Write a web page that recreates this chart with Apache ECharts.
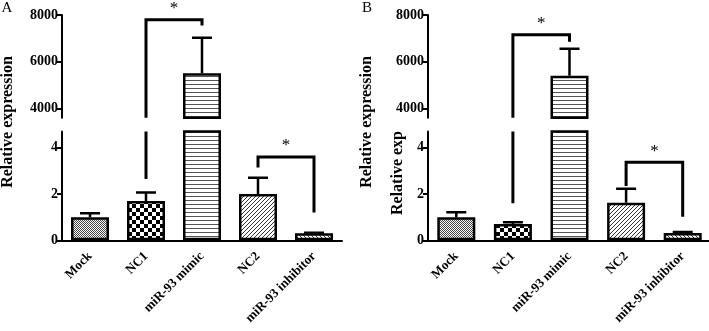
<!DOCTYPE html>
<html><head><meta charset="utf-8">
<script src="https://cdn.jsdelivr.net/npm/echarts@6/dist/echarts.min.js"></script>
<style>html,body{margin:0;padding:0;background:#fff}#c{width:709px;height:331px}</style>
</head><body><div id="c"></div>
<script>
// ---- data ----
const categories = ['Mock', 'NC1', 'miR-93 mimic', 'NC2', 'miR-93 inhibitor'];
const meanA  = [1.0, 1.7, 5500, 2.0, 0.30];
const upperA = [1.17, 2.07, 7030, 2.70, 0.33];
const meanB  = [1.0, 0.70, 5400, 1.62, 0.32];
const upperB = [1.21, 0.78, 6550, 2.23, 0.36];
// significance brackets: [fromIndex, toIndex, leftLegBottom, top, rightLegBottom]
const sigA = [[1, 2, 2.65, 7800, 7550], [3, 4, 3.15, 3.6, 1.2]];
const sigB = [[1, 2, 1.6, 7150, 6850], [3, 4, 2.35, 3.37, 1.02]];
const topTicks = [4000, 6000, 8000];
const botTicks = [0, 2, 4];
const topRange = [3600, 8000];
const botRange = [0, 4.7];

// ---- patterns ----
function pat(w, h, draw) {
  const c = document.createElement('canvas'); c.width = w; c.height = h;
  const g = c.getContext('2d'); g.fillStyle = '#fff'; g.fillRect(0, 0, w, h);
  draw(g); return { image: c, repeat: 'repeat' };
}
const patterns = [
  pat(2, 2, g => { g.fillStyle = '#444'; g.fillRect(0, 0, 1, 1); g.fillRect(1, 1, 1, 1); }),
  pat(8, 8, g => { g.fillStyle = '#000'; g.fillRect(0, 0, 4, 4); g.fillRect(4, 4, 4, 4); }),
  pat(4, 4, g => { g.fillStyle = '#555'; g.fillRect(0, 0, 4, 1); }),
  pat(4, 4, g => { g.fillStyle = '#333'; for (let i = 0; i < 4; i++) g.fillRect(3 - i, i, 1, 1); }),
  pat(4, 4, g => { g.fillStyle = '#333'; for (let i = 0; i < 4; i++) g.fillRect(i, i, 1, 1); })
];

const FONT = 'Liberation Serif';
const grids = [], xAxes = [], yAxes = [], series = [];

function errSeries(ax, mean, upper) {
  return {
    type: 'custom', xAxisIndex: ax, yAxisIndex: ax, clip: true, z: 5,
    encode: { x: 0, y: [1, 2] },
    data: mean.map((m, i) => [i, m, upper[i]]),
    renderItem(params, api) {
      const p0 = api.coord([api.value(0), api.value(1)]);
      const p1 = api.coord([api.value(0), api.value(2)]);
      const st = { stroke: '#000', lineWidth: 2.5 };
      return { type: 'group', children: [
        { type: 'line', shape: { x1: p0[0], y1: p0[1], x2: p1[0], y2: p1[1] }, style: st },
        { type: 'line', shape: { x1: p1[0] - 10, y1: p1[1], x2: p1[0] + 10, y2: p1[1] }, style: st }
      ] };
    }
  };
}
function bracketSeries(ax, items) {
  return {
    type: 'custom', xAxisIndex: ax, yAxisIndex: ax, clip: false, z: 6,
    encode: { x: [0, 1], y: [2, 3, 4] },
    data: items,
    renderItem(params, api) {
      const f = api.value(0), t = api.value(1);
      const a = api.coord([f, api.value(2)]), b = api.coord([f, api.value(3)]);
      const c = api.coord([t, api.value(3)]), d = api.coord([t, api.value(4)]);
      const ch = [{ type: 'polyline', shape: { points: [a, b, c, d] },
        style: { stroke: '#000', lineWidth: 3, fill: null, lineJoin: 'miter' } }];
      if (api.value(5)) ch.push({ type: 'text', style: { text: '*', x: (b[0] + c[0]) / 2, y: b[1] - 11,
        align: 'center', verticalAlign: 'middle', fontSize: 17, fontFamily: FONT, fill: '#000' } });
      return { type: 'group', children: ch };
    }
  };
}

function panel(left, width, mean, upper, sig) {
  const t = grids.length, b = t + 1;
  const topH = (topRange[1] - topRange[0]) * 0.023333;
  const botH = (botRange[1] - botRange[0]) * 23.15;
  grids.push({ left: left, top: 15, width: width, height: topH, outerBoundsMode: 'none' });
  grids.push({ left: left, top: 240.3 - botH, width: width, height: botH, outerBoundsMode: 'none' });
  const yCommon = {
    axisLine: { show: true, lineStyle: { color: '#000', width: 2 } },
    axisTick: { show: true, length: 5, lineStyle: { color: '#000', width: 2 } },
    splitLine: { show: false },
    axisLabel: { color: '#000', fontFamily: FONT, fontSize: 14, fontWeight: 'bold', margin: 4,
      formatter: v => String(v) }
  };
  yAxes.push(Object.assign({}, yCommon, { type: 'value', gridIndex: t, min: topRange[0], max: topRange[1],
    axisTick: Object.assign({}, yCommon.axisTick, { customValues: topTicks }),
    axisLabel: Object.assign({}, yCommon.axisLabel, { customValues: topTicks }) }));
  yAxes.push(Object.assign({}, yCommon, { type: 'value', gridIndex: b, min: botRange[0], max: botRange[1],
    axisTick: Object.assign({}, yCommon.axisTick, { customValues: botTicks }),
    axisLabel: Object.assign({}, yCommon.axisLabel, { customValues: botTicks }) }));
  xAxes.push({ type: 'category', gridIndex: t, data: categories, show: false });
  xAxes.push({ type: 'category', gridIndex: b, data: categories,
    axisLine: { lineStyle: { color: '#000', width: 2 } },
    axisTick: { alignWithLabel: true, length: 5, lineStyle: { color: '#000', width: 2 } },
    axisLabel: { rotate: 45, interval: 0, margin: 14, color: '#000', fontFamily: FONT, fontSize: 13, fontWeight: 'bold' } });
  const barData = mean.map((v, i) => ({ value: v, itemStyle: { color: patterns[i] } }));
  [t, b].forEach(ax => {
    series.push({ type: 'bar', xAxisIndex: ax, yAxisIndex: ax, barWidth: 38, clip: true, z: 2,
      data: barData, itemStyle: { borderColor: '#000', borderWidth: 2.5 } });
    series.push(errSeries(ax, mean, upper));
  });
  const topItems = [], botItems = [];
  sig.forEach(s => {
    const [f, to, l, tp, r] = s;
    if (tp > botRange[1]) {
      topItems.push([f, to, Math.max(l, topRange[0]), tp, Math.max(r, topRange[0]), 1]);
      if (l < botRange[1]) botItems.push([f, f, l, botRange[1], botRange[1], 0]);
    } else {
      botItems.push([f, to, l, tp, r, 1]);
    }
  });
  series.push(bracketSeries(t, topItems));
  series.push(bracketSeries(b, botItems));
}
panel(62, 280, meanA, upperA, sigA);
panel(428, 283, meanB, upperB, sigB);

const lbl = (text, x, y, size, weight, rot) => ({ type: 'text', x: x, y: y, rotation: rot || 0,
  style: { text: text, align: 'center', verticalAlign: 'middle', fontSize: size, fontWeight: weight, fontFamily: FONT, fill: '#000' } });

const chart = echarts.init(document.getElementById('c'), null, { renderer: 'canvas' });
chart.setOption({
  backgroundColor: '#fff',
  animation: false,
  grid: grids, xAxis: xAxes, yAxis: yAxes, series: series,
  graphic: [
    lbl('A', 7, 8, 15, 'normal'),
    lbl('B', 367, 8, 15, 'normal'),
    lbl('Relative expression', 8, 122, 16, 'bold', Math.PI / 2),
    lbl('Relative expression', 367, 122, 16, 'bold', Math.PI / 2),
    lbl('Relative exp', 398, 173, 16, 'bold', Math.PI / 2)
  ]
});
</script></body></html>
